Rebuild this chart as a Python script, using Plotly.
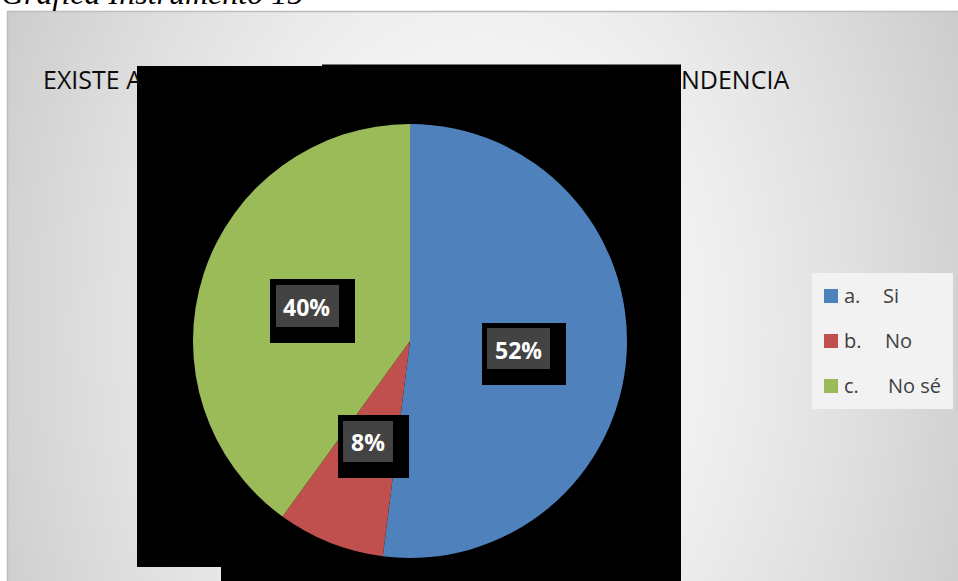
import zlib, struct, base64
import numpy as np
import plotly.graph_objects as go

# ---------------- data ----------------
prefixes = ["a.", "b.", "c."]
names = ["Si", "No", "No sé"]
values = [52, 8, 40]
colors = ["#4F81BD", "#C0504D", "#9BBB59"]
title_left = "EXISTE A"
title_right = "NDENCIA"
header = "Gráfica Instrumento 15"

W, H = 958, 581
def X(px): return px / W
def Y(py): return 1 - py / H

# ---------------- background gradient image ----------------
bx0, by0, bw, bh = 7, 11, 951, 570
yy, xx = np.mgrid[0:bh, 0:bw].astype(float)
xx += bx0; yy += by0
d = np.sqrt((xx - 480) ** 2 + ((yy - 330) * 0.7) ** 2)
drop = 28 * (d / 350.0) ** 1.45
val = np.clip(255 - drop, 185, 255).astype(np.uint8)
arr = np.stack([val, val, val], axis=-1)

def png_uri(a):
    h, w, _ = a.shape
    raw = b"".join(b"\x00" + a[i].tobytes() for i in range(h))
    def chunk(t, dd):
        c = struct.pack(">I", len(dd)) + t + dd
        return c + struct.pack(">I", zlib.crc32(t + dd) & 0xFFFFFFFF)
    png = (b"\x89PNG\r\n\x1a\n"
           + chunk(b"IHDR", struct.pack(">IIBBBBB", w, h, 8, 2, 0, 0, 0))
           + chunk(b"IDAT", zlib.compress(raw, 9))
           + chunk(b"IEND", b""))
    return "data:image/png;base64," + base64.b64encode(png).decode()

fig = go.Figure()

# ---------------- pie ----------------
cx, cy, r = 410, 341, 217
fig.add_trace(go.Pie(
    labels=[p + " " + n for p, n in zip(prefixes, names)],
    values=values,
    marker=dict(colors=colors, line=dict(width=0)),
    sort=False, direction="clockwise", rotation=0,
    textinfo="none", hoverinfo="label+percent", showlegend=False,
    domain=dict(x=[X(cx - r), X(cx + r)], y=[Y(cy + r), Y(cy - r)]),
))

shapes = []
# chart area border lines
shapes.append(dict(type="line", xref="paper", yref="paper", x0=X(7), x1=X(958), y0=Y(11.5), y1=Y(11.5),
                   line=dict(color="#BDBDBD", width=1.5), layer="below"))
shapes.append(dict(type="line", xref="paper", yref="paper", x0=X(7.5), x1=X(7.5), y0=Y(11), y1=Y(581),
                   line=dict(color="#BDBDBD", width=1.5), layer="below"))
# black blocks behind the pie
for (x0, y0, x1, y1) in [(137, 66, 323, 567), (322, 64.5, 681, 567), (221, 566, 681, 581)]:
    shapes.append(dict(type="rect", xref="paper", yref="paper", x0=X(x0), x1=X(x1), y0=Y(y1), y1=Y(y0),
                       fillcolor="#000000", line=dict(width=0), layer="below"))

# label boxes (outer black, inner dark gray)
label_boxes = [
    ((482, 323, 566, 385), (487, 328, 550, 369), (518.5, 350)),
    ((338, 415, 409, 478), (343, 421, 393, 462), (367.5, 442)),
    ((270, 279, 355, 343), (276, 285, 339, 327), (306.5, 306.5)),
]
annotations = []
for (o, i, c), v in zip(label_boxes, values):
    shapes.append(dict(type="rect", xref="paper", yref="paper", x0=X(o[0]), x1=X(o[2]), y0=Y(o[3]), y1=Y(o[1]),
                       fillcolor="#000000", line=dict(width=0), layer="above"))
    shapes.append(dict(type="rect", xref="paper", yref="paper", x0=X(i[0]), x1=X(i[2]), y0=Y(i[3]), y1=Y(i[1]),
                       fillcolor="#434343", line=dict(width=0), layer="above"))
    annotations.append(dict(text=f"<b>{v}%</b>", x=X(c[0]), y=Y(c[1]), xref="paper", yref="paper",
                            xanchor="center", yanchor="middle", showarrow=False,
                            font=dict(family="Open Sans", size=23, color="#FFFFFF")))

# legend
shapes.append(dict(type="rect", xref="paper", yref="paper", x0=X(812), x1=X(953), y0=Y(409), y1=Y(273),
                   fillcolor="#F2F2F2", line=dict(width=0), layer="above"))
leg_y = [296, 341, 386]
name_x = [882, 884, 887]
for k in range(len(names)):
    yc = leg_y[k]
    shapes.append(dict(type="rect", xref="paper", yref="paper", x0=X(824), x1=X(838), y0=Y(yc + 7), y1=Y(yc - 7),
                       fillcolor=colors[k], line=dict(width=0), layer="above"))
    annotations.append(dict(text=prefixes[k], x=X(842), y=Y(yc - 0.5), xref="paper", yref="paper",
                            xanchor="left", yanchor="middle", showarrow=False,
                            font=dict(family="Open Sans", size=20, color="#404040")))
    annotations.append(dict(text=names[k], x=X(name_x[k] - 1), y=Y(yc - 0.5), xref="paper", yref="paper",
                            xanchor="left", yanchor="middle", showarrow=False,
                            font=dict(family="Open Sans", size=20, color="#404040")))

# titles
annotations.append(dict(text=title_left, x=X(41), y=Y(79.5), xref="paper", yref="paper",
                        xanchor="left", yanchor="middle", showarrow=False,
                        font=dict(family="Open Sans", size=25, color="#0D0D0D")))
annotations.append(dict(text=title_right, x=X(791), y=Y(79.5), xref="paper", yref="paper",
                        xanchor="right", yanchor="middle", showarrow=False,
                        font=dict(family="Open Sans", size=25, color="#0D0D0D")))
annotations.append(dict(text=f"<i>{header}</i>", x=X(-1), y=Y(-7.5), xref="paper", yref="paper",
                        xanchor="left", yanchor="middle", showarrow=False,
                        font=dict(family="Liberation Serif", size=32, color="#000000")))

fig.update_layout(
    width=W, height=H, margin=dict(l=0, r=0, t=0, b=0),
    paper_bgcolor="#FFFFFF", plot_bgcolor="#FFFFFF",
    shapes=shapes, annotations=annotations,
    images=[dict(source=png_uri(arr), xref="paper", yref="paper", x=X(bx0), y=Y(by0),
                 sizex=bw / W, sizey=bh / H, xanchor="left", yanchor="top",
                 sizing="stretch", layer="below")],
    showlegend=False,
)
fig.write_html("out.html",
               config=dict(responsive=False, displayModeBar=False),
               post_script="document.body.style.margin='0';document.body.style.overflow='hidden';")
